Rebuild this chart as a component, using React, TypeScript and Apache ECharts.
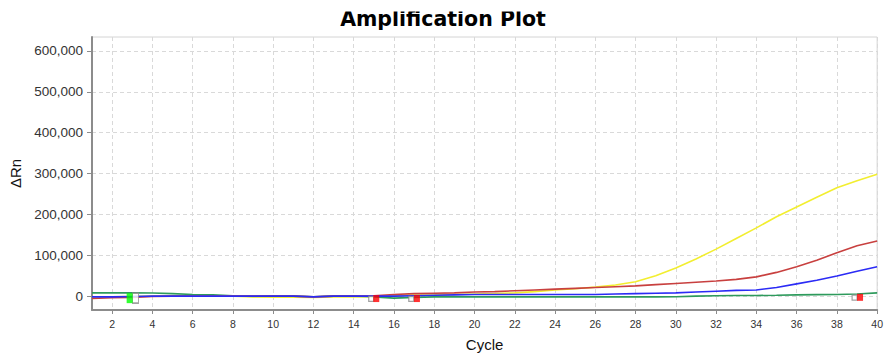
import React, { useEffect, useRef } from "react";
import * as echarts from "echarts";

// Cycle numbers 1..40
const cycles: number[] = Array.from({ length: 40 }, (_, i) => i + 1);

// ΔRn per cycle for the four wells
const greenRn = [
  8000, 8000, 8000, 7500, 6000, 4000, 3000, 1000, -1000, 0,
  0, -2000, 0, 0, -2000, -5000, -3000, -2000, -2000, -2000,
  -2000, -2000, -2000, -2000, -2000, -2000, -2000, -2000, -2000, -1500,
  0, 1000, 1500, 1500, 2000, 3000, 3500, 4000, 5000, 8000,
];
const yellowRn = [
  -2000, -2000, -1000, 0, 0, 0, 0, 0, -2000, -2500,
  -2500, -3000, -2000, -2000, -1000, 1000, 2500, 3000, 4000, 5000,
  6000, 8000, 11000, 15000, 18000, 22000, 27000, 35000, 50000, 69000,
  91000, 115000, 141000, 167000, 194000, 218000, 242000, 265000, 282000, 298000,
];
const redRn = [
  -6000, -4000, -3000, -1000, 0, 0, 0, 0, 0, 0,
  0, -2000, 0, 0, 1000, 4000, 6000, 7000, 8000, 10000,
  11000, 13000, 15000, 17000, 19000, 21000, 23000, 25000, 28000, 31000,
  34000, 37000, 41000, 47000, 58000, 72000, 88000, 106000, 123000, 135000,
];
const blueRn = [
  -2000, -2000, -1000, 0, 0, 0, 0, 0, 0, 0,
  0, -2000, 0, 0, 0, 0, 1000, 2000, 3000, 4000,
  4000, 4000, 4000, 4000, 4000, 4000, 5000, 6000, 7000, 8000,
  10000, 12000, 14000, 15000, 21000, 30000, 39000, 49000, 61000, 72000,
];

// Baseline / threshold markers: [cycle, ΔRn]
const greenFlag: number[][] = [[2.87, -5000]];
const greenFlagOpen: number[][] = [[3.16, -5000]];
const redFlags: number[][] = [[15.12, -6000], [17.14, -6000], [39.15, -3000]];
const redFlagsOpen: number[][] = [[14.87, -7000], [16.86, -7000], [38.88, -3500]];

// Axis tick positions
const cycleTicks: number[] = [2, 4, 6, 8, 10, 12, 14, 16, 18, 20, 22, 24, 26, 28, 30, 32, 34, 36, 38, 40];
const rnTicks: number[] = [0, 100000, 200000, 300000, 400000, 500000, 600000];

const AXIS_FONT = "Liberation Sans";

function pairs(values: number[]): number[][] {
  return cycles.map((c, i) => [c, values[i]]);
}

function lineSeries(name: string, values: number[], color: string) {
  return {
    name,
    type: "line",
    data: pairs(values),
    showSymbol: false,
    symbol: "none",
    lineStyle: { color, width: 1.6 },
    itemStyle: { color },
    z: 3,
  };
}

export default function App() {
  const ref = useRef<HTMLDivElement>(null);

  useEffect(() => {
    if (!ref.current) return;
    const chart = echarts.init(ref.current, undefined, { renderer: "svg" });

    const dashed = { color: "#d9d9d9", type: [4, 3], width: 1 };

    chart.setOption({
      animation: false,
      backgroundColor: "#ffffff",
      graphic: [
        {
          type: "text",
          left: "center",
          top: 8,
          z: 10,
          style: {
            text: "Amplification Plot",
            font: 'bold 20.5px "DejaVu Sans"',
            fill: "#000000",
          },
        },
        {
          type: "rect",
          z: 11,
          shape: { x: 300, y: 0, width: 290, height: 11.5 },
          style: { fill: "#ffffff" },
        },
      ],
      grid: {
        left: 92,
        right: 6,
        top: 37,
        bottom: 48,
        show: true,
        borderColor: "#d4d4d4",
        borderWidth: 1,
        backgroundColor: "transparent",
      },
      xAxis: {
        type: "value",
        min: 1,
        max: 40,
        name: "Cycle",
        nameLocation: "middle",
        nameGap: 27,
        nameTextStyle: { fontFamily: AXIS_FONT, fontSize: 15, color: "#111" },
        axisLine: { show: true, onZero: false, lineStyle: { color: "#8c8c8c", width: 2 } },
        axisTick: { show: true, length: 4, customValues: cycleTicks, lineStyle: { color: "#8c8c8c" } },
        axisLabel: {
          customValues: cycleTicks,
          fontFamily: AXIS_FONT,
          fontSize: 10.5,
          color: "#333",
          margin: 8,
        },
        splitLine: { show: true, lineStyle: dashed },
      },
      yAxis: {
        type: "value",
        min: -34000,
        max: 634000,
        name: "ΔRn",
        nameLocation: "middle",
        nameGap: 68,
        nameRotate: 90,
        nameTextStyle: { fontFamily: AXIS_FONT, fontSize: 15, color: "#111" },
        axisLine: { show: true, onZero: false, lineStyle: { color: "#8c8c8c", width: 2 } },
        axisTick: { show: true, length: 5, customValues: rnTicks, lineStyle: { color: "#8c8c8c" } },
        axisLabel: {
          customValues: rnTicks,
          fontFamily: AXIS_FONT,
          fontSize: 13.5,
          color: "#333",
          margin: 9,
          formatter: (v: number) => v.toLocaleString("en-US"),
        },
        splitLine: { show: true, lineStyle: dashed },
      },
      series: [
        lineSeries("Green", greenRn, "#2e9a5c"),
        lineSeries("Yellow", yellowRn, "#f2ee30"),
        lineSeries("Red", redRn, "#c8403f"),
        lineSeries("Blue", blueRn, "#2b2bf5"),
        {
          name: "GreenFlagOpen",
          type: "scatter",
          data: greenFlagOpen,
          symbol: "rect",
          symbolSize: [6, 10],
          itemStyle: { color: "#ffffff", borderColor: "#8a8a8a", borderWidth: 1.2 },
          z: 5,
        },
        {
          name: "GreenFlag",
          type: "scatter",
          data: greenFlag,
          symbol: "rect",
          symbolSize: [6, 10],
          itemStyle: { color: "#00ff00" },
          z: 6,
        },
        {
          name: "RedFlagsOpen",
          type: "scatter",
          data: redFlagsOpen,
          symbol: "rect",
          symbolSize: [5, 5],
          itemStyle: { color: "#ffffff", borderColor: "#8a8a8a", borderWidth: 1.2 },
          z: 5,
        },
        {
          name: "RedFlags",
          type: "scatter",
          data: redFlags,
          symbol: "rect",
          symbolSize: [6, 7],
          itemStyle: { color: "#ff0000" },
          z: 6,
        },
      ],
    });

    return () => chart.dispose();
  }, []);

  return (
    <div
      ref={ref}
      style={{ position: "fixed", left: 0, top: 0, width: 886, height: 358, background: "#fff" }}
    />
  );
}
